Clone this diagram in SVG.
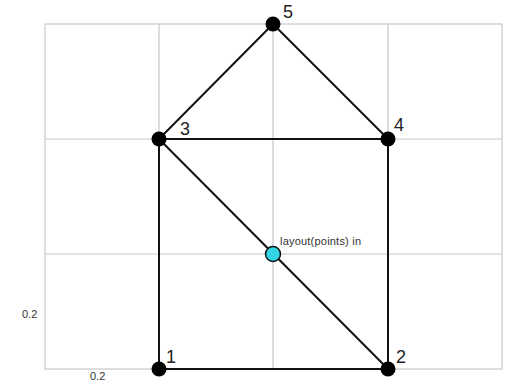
<svg xmlns="http://www.w3.org/2000/svg" width="510" height="384" viewBox="0 0 510 384">
<style>
.grid{stroke:#c8c8c8;stroke-width:1.2;fill:none}
.edge{stroke:#111;stroke-width:2;fill:none}
.node{fill:#000}
.lbl{font-family:"Liberation Sans",Arial,sans-serif;font-size:18px;fill:#222}
.tick{font-family:"Liberation Sans",Arial,sans-serif;font-size:11px;fill:#333}
</style>
<rect width="510" height="384" fill="#fff"/>
<g id="grid" class="grid">
<rect x="45" y="24" width="457" height="345"/>
<line x1="159" y1="24" x2="159" y2="369"/>
<line x1="273" y1="24" x2="273" y2="369"/>
<line x1="388" y1="24" x2="388" y2="369"/>
<line x1="45" y1="139" x2="502" y2="139"/>
<line x1="45" y1="254" x2="502" y2="254"/>
</g>
<g id="connectors" class="edge">
<line x1="159" y1="369" x2="388" y2="369"/>
<line x1="159" y1="369" x2="159" y2="139"/>
<line x1="388" y1="369" x2="388" y2="139"/>
<line x1="159" y1="139" x2="388" y2="139"/>
<line x1="159" y1="139" x2="273" y2="24"/>
<line x1="388" y1="139" x2="273" y2="24"/>
<line x1="159" y1="139" x2="388" y2="369"/>
</g>
<g id="node1"><circle class="node" cx="159" cy="369" r="7.5"/><text class="lbl" x="166" y="363">1</text></g>
<g id="node2"><circle class="node" cx="388" cy="369" r="7.5"/><text class="lbl" x="396" y="363">2</text></g>
<g id="node3"><circle class="node" cx="159" cy="139" r="7.5"/><text class="lbl" x="180" y="135">3</text></g>
<g id="node4"><circle class="node" cx="388" cy="139" r="7.5"/><text class="lbl" x="394" y="131">4</text></g>
<g id="node5"><circle class="node" cx="273" cy="24" r="7.5"/><text class="lbl" x="283" y="18">5</text></g>
<g id="center"><circle cx="273" cy="254" r="7.5" fill="#33d4e6" stroke="#111" stroke-width="1.5"/><text class="tick" x="280" y="244.5" font-size="11.5" textLength="81">layout(points) in</text></g>
<g id="ticks">
<text class="tick" x="22" y="318">0.2</text>
<text class="tick" x="90" y="380">0.2</text>
</g>
</svg>
